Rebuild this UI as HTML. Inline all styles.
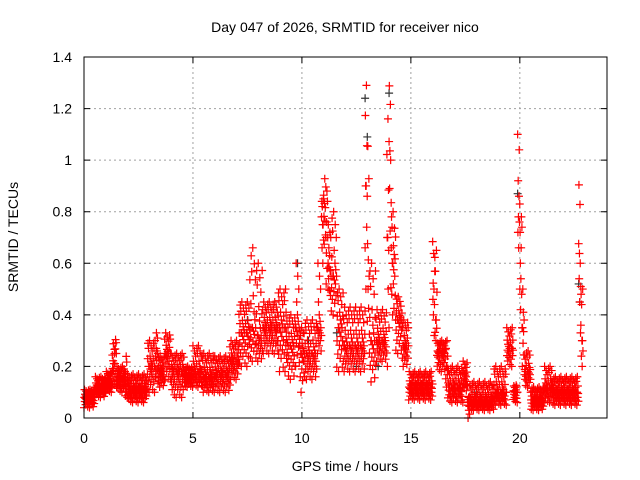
<!DOCTYPE html>
<html><head><meta charset="utf-8"><style>
html,body{margin:0;padding:0;background:#fff;}
svg{display:block;font-family:"Liberation Sans",sans-serif;}
</style></head><body>
<svg id="chart" width="640" height="480" viewBox="0 0 640 480">
<text x="345" y="32" font-size="14" text-anchor="middle">Day 047 of 2026, SRMTID for receiver nico</text>
<text transform="translate(18,237) rotate(-90)" font-size="14" text-anchor="middle">SRMTID / TECUs</text>
<text x="345" y="471" font-size="14" text-anchor="middle">GPS time / hours</text>
<g id="grid"></g>
<g id="axes"></g>
<g id="marks"></g>
<rect x="84" y="57" width="523" height="361" fill="none" stroke="#000" stroke-width="1"/>
</svg>
<script>
// data (hours and TECU)
const xTicks = [0,5,10,15,20];
const yTicks = [0,0.2,0.4,0.6,0.8,1,1.2,1.4];
const yTickLabels = ["0","0.2","0.4","0.6","0.8","1","1.2","1.4"];
// segments: start hour, end hour, low, typical, high
const segStart = [0,0.5,1.0,1.3,1.4,1.5,1.9,2.0,2.9,3.3,3.4,3.7,4.0,4.6,5.0,5.4,6.0,6.7,7.1,7.6,7.9,8.2,8.9,9.3,9.7,9.9,10.1,10.7,10.9,11.0,11.1,11.2,11.3,11.6,11.9,12.9,13.0,13.1,13.4,13.9,14.0,14.1,14.2,14.3,14.6,14.9,16.0,16.1,16.2,16.6,16.7,17.4,17.6,17.7,18.8,19.4,19.7,19.9,20.0,20.1,20.2,20.5,21.1,21.5,22.7,22.8];
const segEnd   = [0.5,1.0,1.3,1.4,1.5,1.9,2.0,2.9,3.3,3.4,3.7,4.0,4.6,5.0,5.4,6.0,6.7,7.1,7.6,7.9,8.2,8.9,9.3,9.7,9.9,10.1,10.7,10.9,11.0,11.1,11.2,11.3,11.6,11.9,12.9,13.0,13.1,13.4,13.9,14.0,14.1,14.2,14.3,14.6,14.9,16.0,16.1,16.2,16.6,16.7,17.4,17.6,17.7,18.8,19.4,19.7,19.9,20.0,20.1,20.2,20.5,21.1,21.5,22.7,22.8,22.9];
const segLow   = [0.04,0.08,0.1,0.12,0.12,0.1,0.08,0.06,0.1,0.12,0.12,0.15,0.08,0.12,0.12,0.1,0.1,0.15,0.2,0.22,0.22,0.25,0.18,0.15,0.2,0.1,0.15,0.25,0.6,0.62,0.5,0.45,0.4,0.18,0.18,0.5,0.3,0.14,0.22,0.2,0.45,0.4,0.35,0.25,0.2,0.07,0.3,0.3,0.18,0.12,0.06,0.1,0.0,0.03,0.05,0.2,0.06,0.6,0.4,0.2,0.12,0.03,0.06,0.05,0.3,0.2];
const segMid   = [0.08,0.12,0.14,0.2,0.25,0.15,0.14,0.11,0.2,0.25,0.18,0.25,0.18,0.16,0.18,0.16,0.17,0.22,0.33,0.35,0.32,0.35,0.35,0.28,0.35,0.25,0.25,0.35,0.75,0.8,0.7,0.6,0.55,0.35,0.28,0.9,0.55,0.3,0.3,0.7,1.0,0.6,0.6,0.38,0.28,0.12,0.5,0.38,0.25,0.2,0.12,0.16,0.05,0.07,0.1,0.27,0.1,0.8,0.6,0.35,0.18,0.07,0.12,0.1,0.6,0.3];
const segHigh  = [0.11,0.16,0.18,0.31,0.31,0.2,0.25,0.17,0.3,0.35,0.24,0.33,0.25,0.2,0.28,0.25,0.24,0.3,0.45,0.66,0.6,0.45,0.5,0.4,0.6,0.35,0.38,0.6,0.85,0.96,0.9,0.75,0.8,0.5,0.43,1.29,1.18,0.6,0.42,1.16,1.36,0.8,0.77,0.47,0.38,0.18,0.73,0.65,0.3,0.3,0.2,0.22,0.08,0.14,0.2,0.35,0.13,1.1,0.8,0.5,0.26,0.12,0.2,0.16,0.98,0.5];
// darker (second series) points
const blackT = [0.3,2.5,7.5,9.8,11.6,12.5,12.9,13.0,14.0,17.5,18.0,19.9,22.7,22.75,10.3,13.5];
const blackV = [0.1,0.12,0.38,0.6,0.33,0.2,1.24,1.09,1.26,0.13,0.1,0.87,0.52,0.45,0.3,0.2];

const X0=84, X1=607, Y0=418, Y1=57, XMAX=24, YMAX=1.4;
const xScale = t => X0 + (X1-X0)*t/XMAX;
const yScale = v => Y0 - (Y0-Y1)*v/YMAX;
const NS="http://www.w3.org/2000/svg";
const grid=document.getElementById('grid'), axes=document.getElementById('axes'), marks=document.getElementById('marks');
function mk(tag,attrs,parent){const e=document.createElementNS(NS,tag);for(const k in attrs)e.setAttribute(k,attrs[k]);parent.appendChild(e);return e;}

xTicks.forEach(t=>{
  const x=xScale(t);
  if(t>0){const g=mk('line',{x1:x,x2:x,y1:Y1,y2:Y0,stroke:'#a0a0a0','stroke-dasharray':'2,3'},grid);
  
  }
  const tk=mk('path',{d:`M${x},${Y0}v-6M${x},${Y1}v6`,stroke:'#000'},axes);
  
  
  const lb=mk('text',{x:x,y:443,'font-size':14,'text-anchor':'middle'},axes);
  lb.textContent=String(t);
  
  
});
yTicks.forEach((v,i)=>{
  const y=yScale(v);
  if(v>0&&v<YMAX){const g=mk('line',{x1:X0,x2:X1,y1:y,y2:y,stroke:'#a0a0a0','stroke-dasharray':'2,3'},grid);
  
  }
  const tk=mk('path',{d:`M${X0},${y}h6M${X1},${y}h-6`,stroke:'#000'},axes);
  
  
  const lb=mk('text',{x:72,y:y+5,'font-size':14,'text-anchor':'end'},axes);
  lb.textContent=yTickLabels[i];
  
  
});
function plus(t,v,col,name){
  const x=xScale(t), y=yScale(v);
  const p=mk('path',{d:`M${x-4},${y}h8M${x},${y-4}v8`,stroke:col,'stroke-width':1.2},marks);
  
  
}
blackT.forEach((t,i)=>plus(t,blackV[i],'#333','dark-point'));
const frac=[0,0.5,1,0.3,0.7,0.45,0.15,0.6,0.9,0.4,0.55,0.25,0.8,0.5,0.05,0.35,0.65,0.95,0.2,0.85,0.5];
let k=0;
segStart.forEach((s,i)=>{
  const lo=segLow[i], mid=segMid[i], hi=segHigh[i];
  for(let t=s;t<segEnd[i]-1e-6;t+=0.012){
    const f=frac[k%frac.length];k++;
    const v=f<0.5? lo+(mid-lo)*f*2 : mid+(hi-mid)*(f*2-1);
    plus(t,v,'#ff0000','srmtid-point');
  }
});
</script>
</body></html>
